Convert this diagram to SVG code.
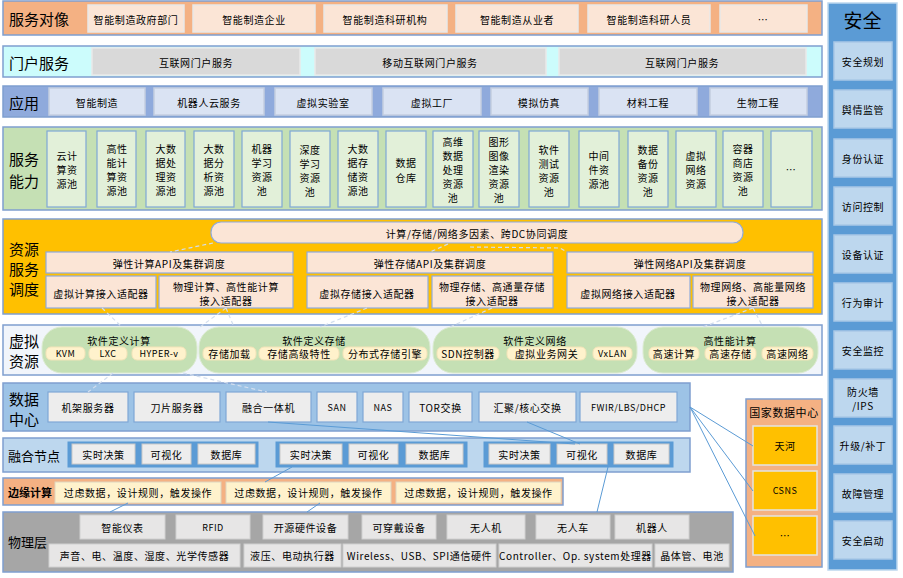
<svg xmlns="http://www.w3.org/2000/svg" width="903" height="578" viewBox="0 0 903 578">
<style>
text{font-family:"Noto Sans CJK SC","Noto Sans",sans-serif;fill:#000;dominant-baseline:central;text-anchor:middle}
.t{font-size:10px;letter-spacing:0.6px}
.s{font-size:9px;letter-spacing:0.5px}
.h{font-size:15px;text-anchor:start}
.band{stroke:#7F9FCF;stroke-width:1.5}
.b1{fill:#FBE5D6;stroke:#E8E8E8;stroke-width:1.5}
.b2{fill:#D9D9D9;stroke:#E9E9E9;stroke-width:1.5}
.b3{fill:#DAE3F3;stroke:#C4CEE0;stroke-width:1.5}
.b4{fill:#E2F0D9;stroke:#7FA7D6;stroke-width:1.2}
.b5{fill:#FBE5D6;stroke:#8FAADC;stroke-width:1.2}
.grp{fill:#C5E0B4;stroke:#DCEBD2;stroke-width:1}
.pill{fill:#FFF2CC;stroke:#F2E3B8;stroke-width:1}
.b6{fill:#EDEDED;stroke:#7FA7D6;stroke-width:1.2}
.fg{fill:#5B9BD5;stroke:#5B9BD5}
.b7{fill:#EDEDED;stroke:#C9C9C9;stroke-width:1}
.b8{fill:#FFF2CC;stroke:#DDD6C0;stroke-width:1}
.b9{fill:#E7E6E6;stroke:#D0D0D0;stroke-width:1}
.b10{fill:#FFC000;stroke:#E4E4E4;stroke-width:1.5}
.b11{fill:#BDD7EE;stroke:#A9C8E6;stroke-width:1.5}
.ln{fill:none;stroke:#5B9BD5;stroke-width:1}
.dl{fill:none;stroke:#D3DEEE;stroke-width:1.2;stroke-dasharray:4 3}
</style>

<g id="layer-service-target">
<rect class="band" x="3" y="1" width="819" height="34" fill="#F4B183"/>
<text class="h" x="9" y="18">服务对像</text>
<rect class="b1" x="88" y="5" width="96" height="27"/><text class="t" x="136" y="19">智能制造政府部门</text>
<rect class="b1" x="193" y="5" width="122" height="27"/><text class="t" x="254" y="19">智能制造企业</text>
<rect class="b1" x="324" y="5" width="123" height="27"/><text class="t" x="385" y="19">智能制造科研机构</text>
<rect class="b1" x="456" y="5" width="122" height="27"/><text class="t" x="517" y="19">智能制造从业者</text>
<rect class="b1" x="588" y="5" width="122" height="27"/><text class="t" x="649" y="19">智能制造科研人员</text>
<rect class="b1" x="720" y="5" width="87" height="27"/><text class="t" x="763" y="19">…</text>
</g>

<g id="layer-portal">
<rect class="band" x="3" y="46" width="819" height="31" fill="#CCFCFC"/>
<text class="h" x="9" y="62">门户服务</text>
<rect class="b2" x="92" y="48" width="208" height="27"/><text class="t" x="196" y="62">互联网门户服务</text>
<rect class="b2" x="315" y="48" width="231" height="27"/><text class="t" x="430" y="62">移动互联网门户服务</text>
<rect class="b2" x="559" y="48" width="247" height="27"/><text class="t" x="682" y="62">互联网门户服务</text>
</g>

<g id="layer-application">
<rect class="band" x="3" y="86" width="819" height="31" fill="#8FAADC"/>
<text class="h" x="9" y="102">应用</text>
<rect class="b3" x="49" y="88" width="96" height="27"/><text class="t" x="97" y="102">智能制造</text>
<rect class="b3" x="154" y="88" width="110" height="27"/><text class="t" x="209" y="102">机器人云服务</text>
<rect class="b3" x="275" y="88" width="97" height="27"/><text class="t" x="323" y="102">虚拟实验室</text>
<rect class="b3" x="383" y="88" width="98" height="27"/><text class="t" x="432" y="102">虚拟工厂</text>
<rect class="b3" x="491" y="88" width="97" height="27"/><text class="t" x="539" y="102">模拟仿真</text>
<rect class="b3" x="599" y="88" width="98" height="27"/><text class="t" x="648" y="102">材料工程</text>
<rect class="b3" x="710" y="88" width="97" height="27"/><text class="t" x="758" y="102">生物工程</text>
</g>

<g id="layer-capability">
<rect class="band" x="3" y="127" width="819" height="83" fill="#C5E0B4"/>
<text class="h" x="9" y="158">服务</text>
<text class="h" x="9" y="180">能力</text>
<g class="t">
<rect class="b4" x="47" y="131" width="39" height="76"/><text x="67" y="155">云计</text><text x="67" y="169">算资</text><text x="67" y="183">源池</text>
<rect class="b4" x="97" y="131" width="39" height="76"/><text x="117" y="148">高性</text><text x="117" y="162">能计</text><text x="117" y="176">算资</text><text x="117" y="190">源池</text>
<rect class="b4" x="146" y="131" width="39" height="76"/><text x="166" y="148">大数</text><text x="166" y="162">据处</text><text x="166" y="176">理资</text><text x="166" y="190">源池</text>
<rect class="b4" x="194" y="131" width="40" height="76"/><text x="214" y="148">大数</text><text x="214" y="162">据分</text><text x="214" y="176">析资</text><text x="214" y="190">源池</text>
<rect class="b4" x="242" y="131" width="40" height="76"/><text x="262" y="148">机器</text><text x="262" y="162">学习</text><text x="262" y="176">资源</text><text x="262" y="190">池</text>
<rect class="b4" x="290" y="131" width="40" height="76"/><text x="310" y="149">深度</text><text x="310" y="163">学习</text><text x="310" y="177">资源</text><text x="310" y="191">池</text>
<rect class="b4" x="338" y="131" width="40" height="76"/><text x="358" y="148">大数</text><text x="358" y="162">据存</text><text x="358" y="176">储资</text><text x="358" y="190">源池</text>
<rect class="b4" x="386" y="131" width="40" height="76"/><text x="406" y="162">数据</text><text x="406" y="177">仓库</text>
<rect class="b4" x="433" y="131" width="40" height="76"/><text x="453" y="141">高维</text><text x="453" y="155">数据</text><text x="453" y="169">处理</text><text x="453" y="183">资源</text><text x="453" y="197">池</text>
<rect class="b4" x="479" y="131" width="40" height="76"/><text x="499" y="141.5">图形</text><text x="499" y="155.5">图像</text><text x="499" y="169.5">渲染</text><text x="499" y="183.5">资源</text><text x="499" y="197.5">池</text>
<rect class="b4" x="529" y="131" width="40" height="76"/><text x="549" y="149">软件</text><text x="549" y="163">测试</text><text x="549" y="177">资源</text><text x="549" y="191">池</text>
<rect class="b4" x="579" y="131" width="40" height="76"/><text x="599" y="155">中间</text><text x="599" y="169">件资</text><text x="599" y="183">源池</text>
<rect class="b4" x="628" y="131" width="40" height="76"/><text x="648" y="149">数据</text><text x="648" y="163">备份</text><text x="648" y="177">资源</text><text x="648" y="191">池</text>
<rect class="b4" x="676" y="131" width="40" height="76"/><text x="696" y="155">虚拟</text><text x="696" y="169">网络</text><text x="696" y="183">资源</text>
<rect class="b4" x="723" y="131" width="40" height="76"/><text x="743" y="148">容器</text><text x="743" y="162">商店</text><text x="743" y="176">资源</text><text x="743" y="190">池</text>
<rect class="b4" x="771" y="131" width="41" height="76"/><text x="791" y="169">…</text>
</g>
</g>

<g id="layer-scheduling">
<rect class="band" x="3" y="219" width="819" height="95" fill="#FFC000"/>
<text class="h" x="9" y="248">资源</text>
<text class="h" x="9" y="268">服务</text>
<text class="h" x="9" y="288">调度</text>
<rect class="b5" x="211" y="222" width="532" height="21" rx="10"/><text class="t" x="477" y="233">计算/存储/网络多因素、跨DC协同调度</text>
<rect class="b5" x="46" y="252" width="247" height="21"/><text class="t" x="169" y="263">弹性计算API及集群调度</text>
<rect class="b5" x="307" y="252" width="246" height="21"/><text class="t" x="430" y="263">弹性存储API及集群调度</text>
<rect class="b5" x="567" y="252" width="246" height="21"/><text class="t" x="690" y="263">弹性网络API及集群调度</text>
<rect class="b5" x="46" y="276" width="110" height="32"/><text class="t" x="101" y="293">虚拟计算接入适配器</text>
<rect class="b5" x="159" y="276" width="134" height="32"/><text class="t" x="226" y="286">物理计算、高性能计算</text><text class="t" x="226" y="300">接入适配器</text>
<rect class="b5" x="307" y="276" width="121" height="32"/><text class="t" x="367" y="293">虚拟存储接入适配器</text>
<rect class="b5" x="432" y="276" width="121" height="32"/><text class="t" x="492" y="286">物理存储、高通量存储</text><text class="t" x="492" y="300">接入适配器</text>
<rect class="b5" x="567" y="276" width="123" height="32"/><text class="t" x="628" y="293">虚拟网络接入适配器</text>
<rect class="b5" x="693" y="276" width="120" height="32"/><text class="t" x="753" y="286">物理网络、高能量网络</text><text class="t" x="753" y="300">接入适配器</text>
</g>

<g id="layer-virtual">
<rect class="band" x="3" y="325" width="819" height="50" fill="#F1F5FB"/>
<text class="h" x="9" y="340">虚拟</text>
<text class="h" x="9" y="360">资源</text>
<rect class="grp" x="42" y="327" width="155" height="46" rx="20"/>
<text class="t" x="119" y="340">软件定义计算</text>
<rect class="pill" x="46" y="347" width="39" height="13" rx="5"/><text class="s" x="65.5" y="353.5">KVM</text>
<rect class="pill" x="89" y="347" width="38" height="13" rx="5"/><text class="s" x="108" y="353.5">LXC</text>
<rect class="pill" x="132" y="347" width="54" height="13" rx="5"/><text class="s" x="159" y="353.5">HYPER-v</text>
<rect class="grp" x="199" y="327" width="231" height="46" rx="20"/>
<text class="t" x="314" y="340">软件定义存储</text>
<rect class="pill" x="203" y="347" width="53" height="13" rx="5"/><text class="t" x="229.5" y="353.5">存储加载</text>
<rect class="pill" x="259" y="347" width="80" height="13" rx="5"/><text class="t" x="299" y="353.5">存储高级特性</text>
<rect class="pill" x="343" y="347" width="84" height="13" rx="5"/><text class="t" x="385" y="353.5">分布式存储引擎</text>
<rect class="grp" x="433" y="327" width="204" height="46" rx="20"/>
<text class="t" x="535" y="340">软件定义网络</text>
<rect class="pill" x="437" y="347" width="62" height="13" rx="5"/><text class="t" x="468" y="353.5">SDN控制器</text>
<rect class="pill" x="507" y="347" width="79" height="13" rx="5"/><text class="t" x="546.5" y="353.5">虚拟业务网关</text>
<rect class="pill" x="593" y="347" width="39" height="13" rx="5"/><text class="s" x="612.5" y="353.5">VxLAN</text>
<rect class="grp" x="643" y="327" width="175" height="46" rx="20"/>
<text class="t" x="730" y="340">高性能计算</text>
<rect class="pill" x="649" y="347" width="50" height="13" rx="5"/><text class="t" x="674" y="353.5">高速计算</text>
<rect class="pill" x="705" y="347" width="51" height="13" rx="5"/><text class="t" x="730.5" y="353.5">高速存储</text>
<rect class="pill" x="762" y="347" width="51" height="13" rx="5"/><text class="t" x="787.5" y="353.5">高速网络</text>
</g>

<g id="layer-datacenter">
<rect class="band" x="3" y="383" width="687" height="48" fill="#9DC3E6" stroke="#6F9FD0"/>
<text class="h" x="9" y="398">数据</text>
<text class="h" x="9" y="418">中心</text>
<rect class="b6" x="48" y="392" width="80" height="30"/><text class="t" x="88" y="407">机架服务器</text>
<rect class="b6" x="134" y="392" width="86" height="30"/><text class="t" x="177" y="407">刀片服务器</text>
<rect class="b6" x="226" y="392" width="85" height="30"/><text class="t" x="268.5" y="407">融合一体机</text>
<rect class="b6" x="317" y="392" width="40" height="30"/><text class="s" x="337" y="407">SAN</text>
<rect class="b6" x="363" y="392" width="40" height="30"/><text class="s" x="383" y="407">NAS</text>
<rect class="b6" x="409" y="392" width="63" height="30"/><text class="t" x="440.5" y="407">TOR交换</text>
<rect class="b6" x="479" y="392" width="97" height="30"/><text class="t" x="527.5" y="407">汇聚/核心交换</text>
<rect class="b6" x="580" y="392" width="97" height="30"/><text class="s" x="628.5" y="407">FWIR/LBS/DHCP</text>
</g>

<g id="layer-fusion">
<rect class="band" x="3" y="438" width="687" height="34" fill="#BDD7EE"/>
<text class="h" x="8" y="455" style="font-size:13px">融合节点</text>
<rect class="fg" x="68" y="442" width="190" height="25"/>
<rect class="b7" x="72" y="444" width="63" height="20"/><text class="t" x="103.5" y="454.5">实时决策</text>
<rect class="b7" x="142" y="444" width="49" height="20"/><text class="t" x="166.5" y="454.5">可视化</text>
<rect class="b7" x="198" y="444" width="57" height="20"/><text class="t" x="226.5" y="454.5">数据库</text>
<rect class="fg" x="276" y="442" width="191" height="25"/>
<rect class="b7" x="280" y="444" width="62" height="20"/><text class="t" x="311" y="454.5">实时决策</text>
<rect class="b7" x="349" y="444" width="49" height="20"/><text class="t" x="373.5" y="454.5">可视化</text>
<rect class="b7" x="406" y="444" width="57" height="20"/><text class="t" x="434.5" y="454.5">数据库</text>
<rect class="fg" x="484" y="442" width="189" height="25"/>
<rect class="b7" x="489" y="444" width="61" height="20"/><text class="t" x="519.5" y="454.5">实时决策</text>
<rect class="b7" x="557" y="444" width="50" height="20"/><text class="t" x="582" y="454.5">可视化</text>
<rect class="b7" x="614" y="444" width="55" height="20"/><text class="t" x="641.5" y="454.5">数据库</text>
</g>

<g id="layer-edge">
<rect class="band" x="3" y="478" width="560" height="27" fill="#F4B183"/>
<text class="h" x="8" y="492" style="font-size:11px;font-weight:bold">边缘计算</text>
<rect class="b8" x="55" y="482" width="166" height="21"/><text class="t" x="138" y="492.5">过虑数据，设计规则，触发操作</text>
<rect class="b8" x="226" y="482" width="165" height="21"/><text class="t" x="308.5" y="492.5">过虑数据，设计规则，触发操作</text>
<rect class="b8" x="396" y="482" width="165" height="21"/><text class="t" x="478.5" y="492.5">过虑数据，设计规则，触发操作</text>
</g>

<g id="layer-physical">
<rect class="band" x="3" y="512" width="730" height="60" fill="#A6A6A6"/>
<text class="h" x="8" y="541" style="font-size:13px">物理层</text>
<rect class="b9" x="80" y="515" width="85" height="24"/><text class="t" x="122.5" y="527">智能仪表</text>
<rect class="b9" x="176" y="515" width="74" height="24"/><text class="s" x="213" y="527">RFID</text>
<rect class="b9" x="263" y="515" width="85" height="24"/><text class="t" x="305.5" y="527">开源硬件设备</text>
<rect class="b9" x="362" y="515" width="74" height="24"/><text class="t" x="399" y="527">可穿戴设备</text>
<rect class="b9" x="447" y="515" width="78" height="24"/><text class="t" x="486" y="527">无人机</text>
<rect class="b9" x="536" y="515" width="74" height="24"/><text class="t" x="573" y="527">无人车</text>
<rect class="b9" x="615" y="515" width="74" height="24"/><text class="t" x="652" y="527">机器人</text>
<rect class="b9" x="49" y="544" width="191" height="23"/><text class="t" x="144.5" y="555.5">声音、电、温度、湿度、光学传感器</text>
<rect class="b9" x="244" y="544" width="97" height="23"/><text class="t" x="292.5" y="555.5">液压、电动执行器</text>
<rect class="b9" x="343" y="544" width="153" height="23"/><text class="t" x="419.5" y="555.5">Wireless、USB、SPI通信硬件</text>
<rect class="b9" x="499" y="544" width="153" height="23"/><text class="t" x="575.5" y="555.5">Controller、Op. system处理器</text>
<rect class="b9" x="655" y="544" width="74" height="23"/><text class="t" x="692" y="555.5">晶体管、电池</text>
</g>

<g id="national-datacenter">
<rect class="band" x="746" y="399" width="76" height="168" fill="#F4B183" stroke="#8FAADC"/>
<text class="t" x="784" y="412" style="font-size:11px">国家数据中心</text>
<rect class="b10" x="753" y="426" width="64" height="39"/><text class="t" x="785" y="445.5">天河</text>
<rect class="b10" x="753" y="471" width="64" height="39"/><text class="s" x="785" y="490.5">CSNS</text>
<rect class="b10" x="753" y="516" width="64" height="39"/><text class="t" x="785" y="535.5">…</text>
</g>

<g id="security">
<rect x="828" y="3" width="69" height="567" fill="#5B9BD5" stroke="#BDD7EE" stroke-width="1.5"/>
<text x="862.5" y="19" style="font-size:19px">安全</text>
<rect class="b11" x="834" y="42" width="58" height="38"/><text class="t" x="863" y="61">安全规划</text>
<rect class="b11" x="834" y="90" width="58" height="38"/><text class="t" x="863" y="109">舆情监管</text>
<rect class="b11" x="834" y="139" width="58" height="38"/><text class="t" x="863" y="158">身份认证</text>
<rect class="b11" x="834" y="187" width="58" height="38"/><text class="t" x="863" y="206">访问控制</text>
<rect class="b11" x="834" y="235" width="58" height="38"/><text class="t" x="863" y="254">设备认证</text>
<rect class="b11" x="834" y="283" width="58" height="38"/><text class="t" x="863" y="302">行为审计</text>
<rect class="b11" x="834" y="331" width="58" height="38"/><text class="t" x="863" y="350">安全监控</text>
<rect class="b11" x="834" y="379" width="58" height="38"/><text class="t" x="863" y="391">防火墙</text><text class="t" x="863" y="405">/IPS</text>
<rect class="b11" x="834" y="426" width="58" height="38"/><text class="t" x="863" y="445">升级/补丁</text>
<rect class="b11" x="834" y="474" width="58" height="38"/><text class="t" x="863" y="493">故障管理</text>
<rect class="b11" x="834" y="521" width="58" height="38"/><text class="t" x="863" y="540">安全启动</text>
</g>

<g id="connectors">
<path class="dl" d="M213 243 L170 252"/>
<path class="dl" d="M448 244 L430 252"/>
<path class="dl" d="M470 247 L560 248 L567 252"/>
<path class="dl" d="M102 308 L122 327"/>
<path class="dl" d="M226 308 L200 327"/>
<path class="dl" d="M226 308 L234 327"/>
<path class="dl" d="M367 308 L320 327"/>
<path class="dl" d="M492 308 L450 327"/>
<path class="dl" d="M753 308 L703 327"/>
<path class="dl" d="M753 308 L763 327"/>
<path class="dl" d="M113 373 L88 392"/>
<path class="dl" d="M183 373 L267 392"/>
<path class="ln" d="M690 407 L753 446"/>
<path class="ln" d="M690 407 L753 491"/>
<path class="ln" d="M690 407 L755 536"/>
<path class="ln" d="M527 422 L580 444"/>
<path class="ln" d="M268 422 L575 444"/>
<path class="ln" d="M292 467 L265 482"/>
<path class="ln" d="M128 503 L110 512"/>
<path class="ln" d="M320 503 L307 512"/>
<path class="ln" d="M608 467 L597 512"/>
</g>
</svg>
